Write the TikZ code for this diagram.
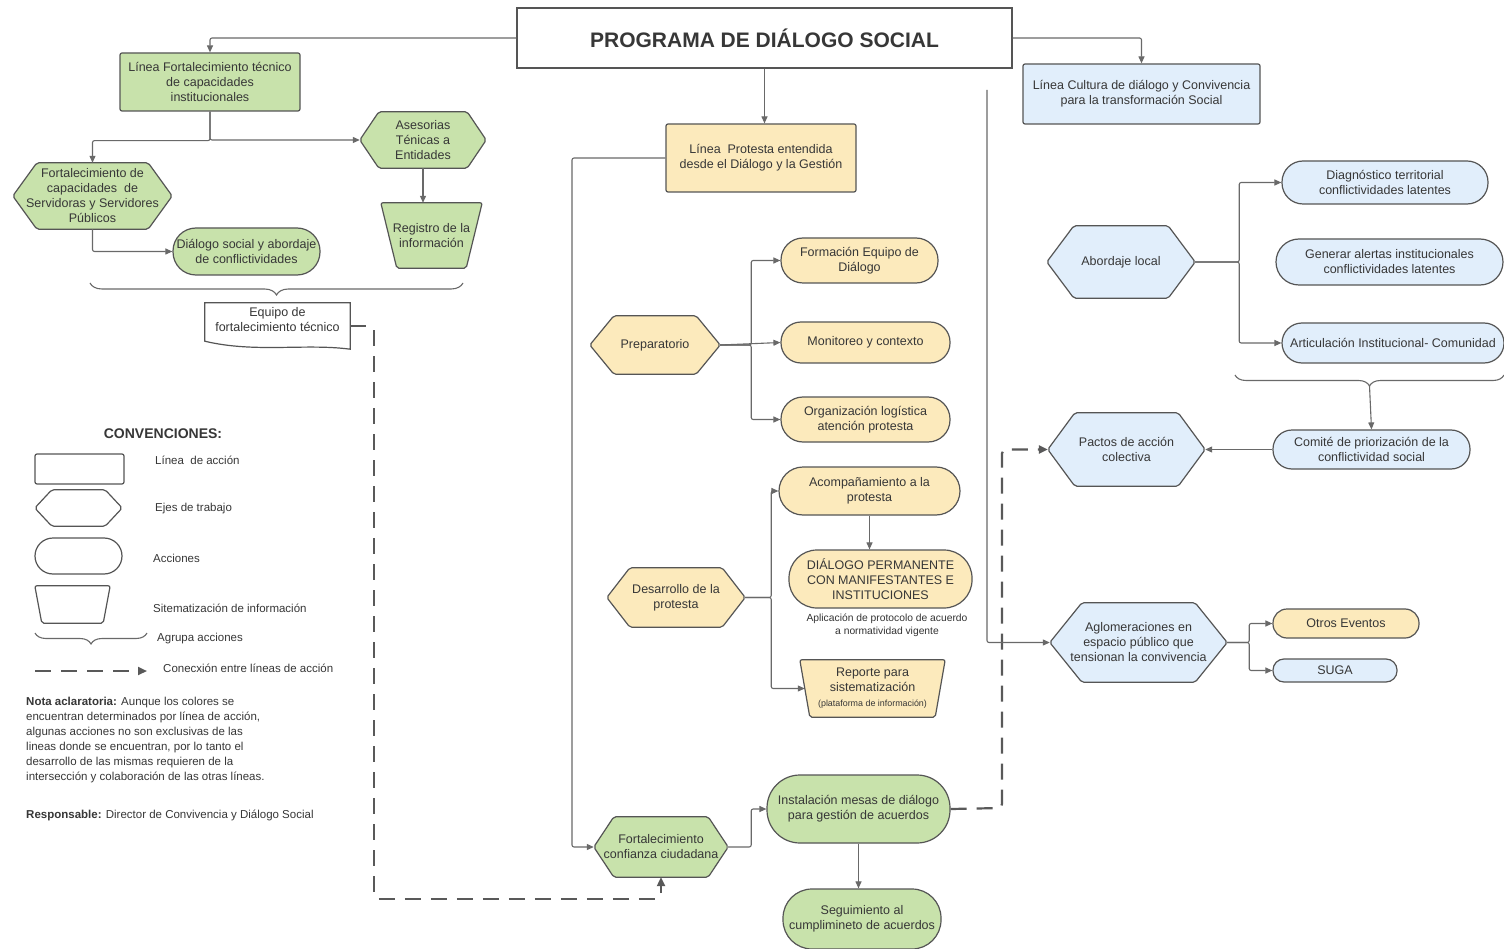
\documentclass[tikz,border=0pt]{standalone}
\usepackage{fontspec}
\setmainfont{Liberation Sans}
\usetikzlibrary{arrows.meta,decorations.pathreplacing,backgrounds,calc}

\definecolor{verde}{RGB}{200,226,171}
\definecolor{amarillo}{RGB}{252,234,188}
\definecolor{azul}{RGB}{225,238,251}
\definecolor{borde}{RGB}{85,85,85}
\definecolor{flecha}{RGB}{105,105,105}
\definecolor{texto}{RGB}{55,55,55}

\tikzset{
  base/.style={align=center, text=texto, inner sep=0pt, font=\fontsize{12.5}{15}\selectfont},
  linea/.style={base, rectangle, draw=borde, line width=1.2pt, rounded corners=2pt},
  accion/.style={base, rectangle, draw=borde, line width=1.2pt, rounded corners=#1},
  accion/.default=15pt,
  forma/.style={base, rectangle},
  leyenda/.style={base, anchor=west, font=\fontsize{11.5}{14}\selectfont},
  conn/.style={draw=flecha, line width=1.1pt, rounded corners=2pt, -{Triangle[length=7pt,width=6pt]}},
  dashconn/.style={draw=flecha!85!black, line width=2.2pt, dash pattern=on 16pt off 10pt, rounded corners=4pt, -{Triangle[length=9pt,width=8pt]}},
  llave/.style={draw=flecha, line width=1.1pt, decorate, decoration={brace, mirror, amplitude=#1}},
  llave/.default=12pt,
}

\newcommand{\hexa}[3]{%
  \begin{scope}[on background layer]
    \filldraw[fill=#2, draw=borde, line width=1.2pt, rounded corners=2pt]
      (#1.west) -- ([xshift=#3]#1.north west) -- ([xshift=-#3]#1.north east)
      -- (#1.east) -- ([xshift=-#3]#1.south east) -- ([xshift=#3]#1.south west) -- cycle;
  \end{scope}}
\newcommand{\trapecio}[3]{%
  \begin{scope}[on background layer]
    \filldraw[fill=#2, draw=borde, line width=1.2pt, rounded corners=2pt]
      (#1.north west) -- (#1.north east) -- ([xshift=-#3]#1.south east)
      -- ([xshift=#3]#1.south west) -- cycle;
  \end{scope}}
\newcommand{\documento}[2]{%
  \begin{scope}[on background layer]
    \filldraw[fill=#2, draw=borde, line width=1.2pt]
      ([yshift=-4pt]#1.south west) -- (#1.north west) -- (#1.north east) -- ([yshift=-12pt]#1.south east)
      .. controls ([xshift=-45pt,yshift=-6pt]#1.south east) and ([xshift=50pt,yshift=-16pt]#1.south west)
      .. ([yshift=-4pt]#1.south west) -- cycle;
  \end{scope}}

\begin{document}
\begin{tikzpicture}[x=1pt,y=-1pt]
  \begin{scope}[on background layer]
    \fill[white] (0,0) rectangle (1504,949);
  \end{scope}
  \useasboundingbox (0,0) rectangle (1504,949);

  \node[linea, rounded corners=0pt, fill=white, minimum width=495, minimum height=60,
        font=\fontsize{21}{25}\selectfont\bfseries] (prog) at (764.5,38) {PROGRAMA DE DIÁLOGO SOCIAL};

  % linea verde
  \node[linea, fill=verde, minimum width=180, minimum height=58] (lfort) at (210,82)
    {Línea Fortalecimiento técnico\\de capacidades\\institucionales};
  \node[forma, minimum width=159, minimum height=66] (fcap) at (92.5,196)
    {Fortalecimiento de\\capacidades\ \ de\\Servidoras y Servidores\\Públicos};
  \hexa{fcap}{verde}{24pt}
  \node[forma, minimum width=126, minimum height=56] (ases) at (423,140) {Asesorias\\Ténicas a\\Entidades};
  \hexa{ases}{verde}{19pt}
  \node[forma, minimum width=101, minimum height=65] (regis) at (431.5,235.5) {Registro de la\\información};
  \trapecio{regis}{verde}{16pt}
  \node[accion=23pt, fill=verde, minimum width=147, minimum height=47] (dsoc) at (246.5,251.5)
    {Diálogo social y abordaje\\de conflictividades};
  \node[forma, minimum width=145, minimum height=34] (equipo) at (277.5,320) {Equipo de\\fortalecimiento técnico};
  \documento{equipo}{white}

  % linea amarilla
  \node[linea, fill=amarillo, minimum width=190, minimum height=68] (lprot) at (761,158)
    {Línea\ \ Protesta entendida\\desde el Diálogo y la Gestión};
  \node[forma, minimum width=130, minimum height=58] (prep) at (655,345) {Preparatorio};
  \hexa{prep}{amarillo}{24pt}
  \node[accion=22pt, fill=amarillo, minimum width=157, minimum height=45] (form) at (859.5,260.5) {Formación Equipo de\\Diálogo};
  \node[accion=20pt, fill=amarillo, minimum width=169, minimum height=41] (monit) at (865.5,342.5) {Monitoreo y contexto};
  \node[accion=22pt, fill=amarillo, minimum width=169, minimum height=45] (organ) at (865.5,419.5) {Organización logística\\atención protesta};
  \node[forma, minimum width=138, minimum height=59] (desa) at (676,597.5) {Desarrollo de la\\protesta};
  \hexa{desa}{amarillo}{23pt}
  \node[accion=24pt, fill=amarillo, minimum width=181, minimum height=48] (acomp) at (869.5,491) {Acompañamiento a la\\protesta};
  \node[accion=28pt, fill=amarillo, minimum width=183, minimum height=58] (dperm) at (880.5,579)
    {DIÁLOGO PERMANENTE\\CON MANIFESTANTES E\\INSTITUCIONES};
  \node[base, text=black!80, font=\fontsize{10.3}{13}\selectfont] (aplic) at (887,625)
    {Aplicación de protocolo de acuerdo\\a normatividad vigente};
  \node[forma, minimum width=145, minimum height=57] (repor) at (872.5,688.5)
    {Reporte para\\sistematización\\{\fontsize{8.9}{11}\selectfont(plataforma de información)}};
  \trapecio{repor}{amarillo}{10pt}
  \node[forma, minimum width=134, minimum height=60] (conf) at (661,847) {Fortalecimiento\\confianza ciudadana};
  \hexa{conf}{verde}{20pt}
  \node[accion=33pt, fill=verde, minimum width=183, minimum height=68] (inst) at (858.5,809)
    {Instalación mesas de diálogo\\para gestión de acuerdos};
  \node[accion=29pt, fill=verde, minimum width=158, minimum height=60] (segu) at (862,919)
    {Seguimiento al\\cumplimineto de acuerdos};

  % linea azul
  \node[linea, fill=azul, minimum width=237, minimum height=60] (lcult) at (1141.5,94)
    {Línea Cultura de diálogo y Convivencia\\para la transformación Social};
  \node[forma, minimum width=148, minimum height=72] (abord) at (1121,262) {Abordaje local};
  \hexa{abord}{azul}{27pt}
  \node[accion=21pt, fill=azul, minimum width=206, minimum height=43] (diag) at (1385,182.5)
    {Diagnóstico territorial\\conflictividades latentes};
  \node[accion=23pt, fill=azul, minimum width=227, minimum height=46] (gener) at (1389.5,262)
    {Generar alertas institucionales\\conflictividades latentes};
  \node[accion=20pt, fill=azul, minimum width=222, minimum height=40] (artic) at (1393,343)
    {Articulación Institucional- Comunidad};
  \node[accion=19pt, fill=azul, minimum width=197, minimum height=39] (comite) at (1371.5,449.5)
    {Comité de priorización de la\\conflictividad social};
  \node[forma, minimum width=157, minimum height=73] (pact) at (1126.5,449.5) {Pactos de acción\\colectiva};
  \hexa{pact}{azul}{27pt}
  \node[forma, minimum width=177, minimum height=79] (aglo) at (1138.5,642.5)
    {Aglomeraciones en\\espacio público que\\tensionan la convivencia};
  \hexa{aglo}{azul}{32pt}
  \node[accion=14pt, fill=amarillo, minimum width=146, minimum height=29] (otros) at (1346,623.5) {Otros Eventos};
  \node[accion=11pt, fill=azul, minimum width=124, minimum height=23] (suga) at (1335,670.5) {SUGA};

  \coordinate (cultlin) at (987,90);
  \coordinate (dizq) at (374,899);
  \coordinate (prizq) at (572,847);
  \coordinate (dder) at (1002,808);
  \coordinate (lltip) at (1369.5,386);

  \draw[conn] (prog.west) -| (lfort.north);
  \draw[conn] (prog.east) -| (lcult.north);
  \draw[conn] (prog.south) -- (prog.south |- lprot.north);

  \draw[conn] (lfort.south) |- (ases.west);
  \draw[conn] (lfort.south) -- ++(0,29) -| (fcap.north);
  \draw[conn] (ases.south) -- (ases.south |- regis.north);
  \draw[conn] (fcap.south) |- (dsoc.west);
  \draw[llave] (90,283) -- (463,283);
  \draw[dashconn] ([yshift=-6pt]equipo.east) -| (dizq) -| (conf.south);

  \draw[conn] (lprot.west) -| (prizq) -- (conf.west);
  \draw[conn] (prep.east) -- (monit.west);
  \draw[conn] (prep.east) -- ++(31,0) |- (form.west);
  \draw[conn] (prep.east) -- ++(31,0) |- (organ.west);
  \draw[conn] (desa.east) -- ++(26,0) |- (acomp.west);
  \draw[conn] (desa.east) -- ++(26,0) |- ([xshift=5pt]repor.west);
  \draw[conn] (acomp.south) -- (acomp.south |- dperm.north);
  \draw[conn] (conf.east) -- ++(23,0) |- (inst.west);
  \draw[conn] (inst.south) -- (inst.south |- segu.north);
  \draw[dashconn] (inst.east) -- (dder) |- (pact.west);

  \draw[conn] (cultlin) |- (aglo.west);
  \draw[conn] (abord.east) -- ++(44,0) |- (diag.west);
  \draw[conn] (abord.east) -- ++(44,0) |- (artic.west);
  \draw[llave=11pt] (1235,375) -- (1504,375);
  \draw[conn] (lltip) -- (comite.north);
  \draw[conn] (comite.west) -- (pact.east);
  \draw[conn] (aglo.east) -- ++(22,0) |- (otros.west);
  \draw[conn] (aglo.east) -- ++(22,0) |- (suga.west);

  % convenciones
  \node[base, font=\fontsize{14}{16}\selectfont\bfseries] (conv) at (163,434) {CONVENCIONES:};
  \node[linea, minimum width=89, minimum height=30] (leglin) at (79.5,469) {};
  \node[forma, minimum width=87, minimum height=36] (legeje) at (78.5,508) {};
  \hexa{legeje}{white}{17pt}
  \node[accion=18pt, minimum width=87, minimum height=36] (legacc) at (78.5,556) {};
  \node[forma, minimum width=75, minimum height=37] (legsis) at (72.5,604.5) {};
  \trapecio{legsis}{white}{7pt}
  \draw[llave=11pt] (35,633) -- (147,633);
  \draw[dashconn] (35,671) -- (147,671);
  \node[leyenda] (tlin) at (155,460) {Línea\ \ de acción};
  \node[leyenda] (teje) at (155,509) {Ejes de trabajo};
  \node[leyenda] (tacc) at (153,558) {Acciones};
  \node[leyenda] (tsis) at (153,608) {Sitematización de información};
  \node[leyenda] (tagr) at (157,639) {Agrupa acciones};
  \node[leyenda] (tcon) at (163,668) {Conecxión entre líneas de acción};

  \node[base, anchor=north west, align=left, font=\fontsize{11.5}{15}\selectfont] (nota) at (26,697)
    {\textbf{Nota aclaratoria:} Aunque los colores se\\
     encuentran determinados por línea de acción,\\
     algunas acciones no son exclusivas de las\\
     lineas donde se encuentran, por lo tanto el\\
     desarrollo de las mismas requieren de la\\
     intersección y colaboración de las otras líneas.};
  \node[base, anchor=west, font=\fontsize{11.5}{15}\selectfont] (resp) at (26,815)
    {\textbf{Responsable:} Director de Convivencia y Diálogo Social};
\end{tikzpicture}
\end{document}
